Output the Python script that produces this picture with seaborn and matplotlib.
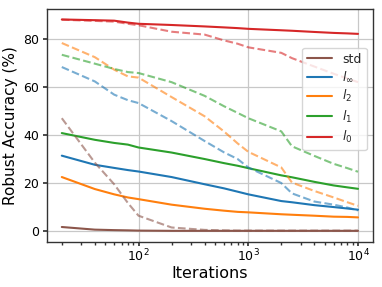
import matplotlib
matplotlib.use("Agg")
import matplotlib.pyplot as plt
import numpy as np
import pandas as pd
import seaborn as sns

# ---------------------------------------------------------------------------
# Data
# ---------------------------------------------------------------------------

iterations = [20, 40, 60, 80, 100, 200, 400, 600, 800, 1000, 2000, 2500, 4000, 6000, 8000, 10000]

# solid lines
std_solid  = [1.7, 0.6, 0.4, 0.3, 0.2, 0.1, 0.1, 0.1, 0.1, 0.1, 0.1, 0.1, 0.1, 0.1, 0.1, 0.1]
linf_solid = [31.4, 27.6, 26.3, 25.4, 24.8, 22.5, 19.5, 17.8, 16.4, 15.3, 12.5, 12.0, 10.8, 10.0, 9.4, 8.9]
l2_solid   = [22.5, 17.5, 15.3, 14.0, 13.3, 11.0, 9.3, 8.5, 8.0, 7.8, 7.0, 6.8, 6.4, 6.0, 5.9, 5.7]
l1_solid   = [40.8, 38.0, 36.7, 36.0, 34.8, 32.7, 30.0, 28.3, 27.2, 26.2, 23.2, 22.4, 20.5, 19.0, 18.2, 17.6]
l0_solid   = [88.1, 87.8, 87.6, 86.8, 86.3, 85.8, 85.2, 84.8, 84.5, 84.2, 83.6, 83.4, 82.9, 82.5, 82.3, 82.1]

# dashed lines
std_dash  = [47.0, 28.5, 19.5, 11.7, 6.4, 1.5, 0.5, 0.3, 0.2, 0.2, 0.2, 0.2, 0.2, 0.2, 0.2, 0.2]
linf_dash = [68.3, 62.3, 56.8, 54.5, 53.3, 45.8, 37.5, 32.8, 30.0, 26.5, 20.0, 15.7, 12.3, 11.0, 9.8, 8.6]
l2_dash   = [78.3, 72.4, 67.2, 64.4, 63.9, 55.8, 47.8, 41.5, 36.5, 33.0, 26.5, 20.2, 16.7, 14.0, 12.0, 10.5]
l1_dash   = [73.4, 69.7, 67.5, 66.2, 65.8, 62.0, 56.3, 52.0, 49.2, 47.0, 41.5, 35.3, 31.3, 28.0, 26.2, 24.7]
l0_dash   = [88.0, 87.5, 87.2, 86.3, 85.7, 83.0, 81.8, 79.4, 78.0, 76.5, 74.2, 72.0, 68.5, 65.5, 63.5, 62.0]

labels = ["std", r"$l_\infty$", r"$l_2$", r"$l_1$", r"$l_0$"]
colors = ["#8c564b", "#1f77b4", "#ff7f0e", "#2ca02c", "#d62728"]
solid  = [std_solid, linf_solid, l2_solid, l1_solid, l0_solid]
dashed = [std_dash, linf_dash, l2_dash, l1_dash, l0_dash]

# ---------------------------------------------------------------------------
# Plot
# ---------------------------------------------------------------------------

sns.set_theme(style="whitegrid", rc={
    "axes.edgecolor": "#333333",
    "axes.linewidth": 1.0,
    "grid.color": "#c8c8c8",
    "grid.linewidth": 0.9,
    "xtick.bottom": True,
    "ytick.left": True,
    "xtick.color": "#333333",
    "ytick.color": "#333333",
    "xtick.major.size": 3,
    "xtick.minor.size": 2,
    "ytick.major.size": 3,
    "xtick.major.pad": 1.5,
    "ytick.major.pad": 2.5,
})
plt.rcParams["font.family"] = ["DejaVu Sans"]

fig, ax = plt.subplots(figsize=(3.82, 2.87), dpi=100)

for lab, col, ys in zip(labels, colors, solid):
    sns.lineplot(x=iterations, y=ys, ax=ax, color=col, linewidth=1.5, label=lab)
for col, ys in zip(colors, dashed):
    sns.lineplot(x=iterations, y=ys, ax=ax, color=col, linewidth=1.5,
                 linestyle="--", alpha=0.6)

ax.set_xscale("log")
ax.set_ylim(-4.4, 92.5)
ax.set_yticks([0, 20, 40, 60, 80])
ax.set_xlabel("Iterations", fontsize=11.5, color="black", labelpad=1)
ax.set_ylabel("Robust Accuracy (%)", fontsize=11, color="black", labelpad=4)
ax.tick_params(axis="both", which="major", labelsize=9, labelcolor="black")
ax.tick_params(axis="x", which="minor", bottom=True)

ax.legend(loc="center right", bbox_to_anchor=(1.0, 0.613), fontsize=9,
          handlelength=2.0, frameon=True, framealpha=0.8,
          borderpad=0.4, labelspacing=0.35)

fig.subplots_adjust(left=0.123, right=0.976, top=0.969, bottom=0.158)
fig.savefig("out.png", dpi=100)
